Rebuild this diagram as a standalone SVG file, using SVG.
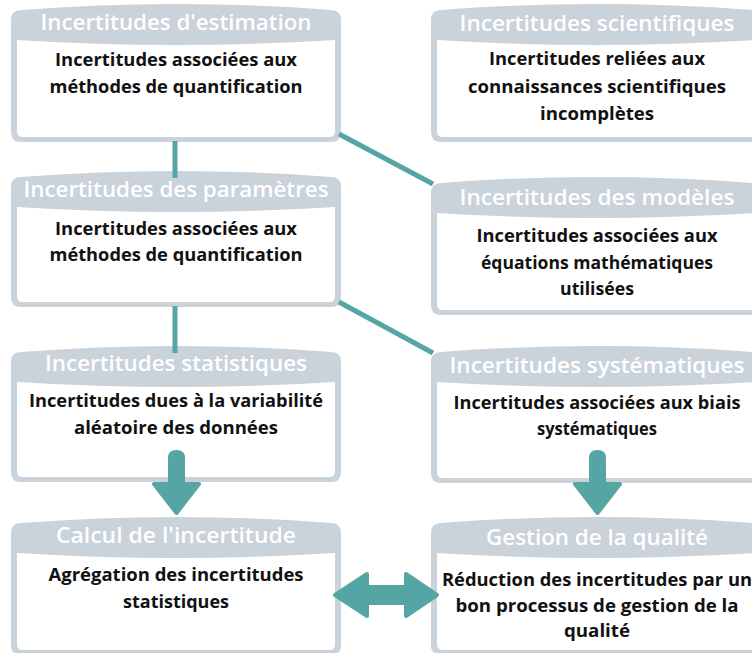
<svg xmlns="http://www.w3.org/2000/svg" width="752" height="653" viewBox="0 0 752 653">
<style>
.frame{fill:#cad2da}
.body{fill:#ffffff}
.hd{font-family:"Open Sans","Liberation Sans",sans-serif;font-weight:600;font-size:22px;fill:#ffffff;text-anchor:middle}
.tx{font-family:"Open Sans","Liberation Sans",sans-serif;font-weight:700;font-size:17.5px;fill:#111111;text-anchor:middle}
.ln{stroke:#56a5a5;stroke-width:5;fill:none}
.ar{fill:#56a5a5;stroke:#56a5a5;stroke-width:4;stroke-linejoin:round}
</style>
<rect width="752" height="653" fill="#ffffff"/>
<g id="n-estimation" transform="translate(11,10)">
<path class="frame" d="M0,10 Q0,0 10,0 Q165,-12 320,0 Q330,0 330,10 V122 Q330,132 320,132 H10 Q0,132 0,122 Z"/>
<path class="body" d="M6,30 Q165,40 324,30 V121 Q324,127 318,127 H12 Q6,127 6,121 Z"/>
<text class="hd" x="165" y="20" textLength="271" lengthAdjust="spacingAndGlyphs">Incertitudes d'estimation</text>
<text class="tx" x="165" y="56" textLength="242" lengthAdjust="spacingAndGlyphs">Incertitudes associées aux</text>
<text class="tx" x="165" y="83" textLength="253" lengthAdjust="spacingAndGlyphs">méthodes de quantification</text>
</g>
<g id="n-parametres" transform="translate(11,177)">
<path class="frame" d="M0,10 Q0,0 10,0 Q165,-12 320,0 Q330,0 330,10 V120 Q330,130 320,130 H10 Q0,130 0,120 Z"/>
<path class="body" d="M6,30 Q165,40 324,30 V119 Q324,125 318,125 H12 Q6,125 6,119 Z"/>
<text class="hd" x="165" y="20" textLength="305" lengthAdjust="spacingAndGlyphs">Incertitudes des paramètres</text>
<text class="tx" x="165" y="58" textLength="242" lengthAdjust="spacingAndGlyphs">Incertitudes associées aux</text>
<text class="tx" x="165" y="84" textLength="253" lengthAdjust="spacingAndGlyphs">méthodes de quantification</text>
</g>
<g id="n-statistiques" transform="translate(11,352)">
<path class="frame" d="M0,10 Q0,0 10,0 Q165,-12 320,0 Q330,0 330,10 V120 Q330,130 320,130 H10 Q0,130 0,120 Z"/>
<path class="body" d="M6,30 Q165,40 324,30 V119 Q324,125 318,125 H12 Q6,125 6,119 Z"/>
<text class="hd" x="165" y="19" textLength="262" lengthAdjust="spacingAndGlyphs">Incertitudes statistiques</text>
<text class="tx" x="165" y="55" textLength="294" lengthAdjust="spacingAndGlyphs">Incertitudes dues à la variabilité</text>
<text class="tx" x="165" y="82" textLength="204" lengthAdjust="spacingAndGlyphs">aléatoire des données</text>
</g>
<g id="n-calcul" transform="translate(11,523)">
<path class="frame" d="M0,10 Q0,0 10,0 Q165,-12 320,0 Q330,0 330,10 V122 Q330,132 320,132 H10 Q0,132 0,122 Z"/>
<path class="body" d="M6,30 Q165,40 324,30 V121 Q324,127 318,127 H12 Q6,127 6,121 Z"/>
<text class="hd" x="165" y="20" textLength="240" lengthAdjust="spacingAndGlyphs">Calcul de l'incertitude</text>
<text class="tx" x="165" y="58" textLength="255" lengthAdjust="spacingAndGlyphs">Agrégation des incertitudes</text>
<text class="tx" x="165" y="85" textLength="106" lengthAdjust="spacingAndGlyphs">statistiques</text>
</g>
<g id="n-scientifiques" transform="translate(431,10)">
<path class="frame" d="M0,10 Q0,0 10,0 Q166,-12 322,0 Q332,0 332,10 V122 Q332,132 322,132 H10 Q0,132 0,122 Z"/>
<path class="body" d="M6,30 Q166,40 326,30 V121 Q326,127 320,127 H12 Q6,127 6,121 Z"/>
<text class="hd" x="166" y="21" textLength="275" lengthAdjust="spacingAndGlyphs">Incertitudes scientifiques</text>
<text class="tx" x="166" y="55" textLength="216" lengthAdjust="spacingAndGlyphs">Incertitudes reliées aux</text>
<text class="tx" x="166" y="83" textLength="258" lengthAdjust="spacingAndGlyphs">connaissances scientifiques</text>
<text class="tx" x="166" y="110" textLength="114" lengthAdjust="spacingAndGlyphs">incomplètes</text>
</g>
<g id="n-modeles" transform="translate(431,183)">
<path class="frame" d="M0,10 Q0,0 10,0 Q166,-12 322,0 Q332,0 332,10 V122 Q332,132 322,132 H10 Q0,132 0,122 Z"/>
<path class="body" d="M6,30 Q166,40 326,30 V121 Q326,127 320,127 H12 Q6,127 6,121 Z"/>
<text class="hd" x="166" y="22" textLength="275" lengthAdjust="spacingAndGlyphs">Incertitudes des modèles</text>
<text class="tx" x="166" y="59" textLength="241" lengthAdjust="spacingAndGlyphs">Incertitudes associées aux</text>
<text class="tx" x="166" y="86" textLength="232" lengthAdjust="spacingAndGlyphs">équations mathématiques</text>
<text class="tx" x="166" y="112" textLength="74" lengthAdjust="spacingAndGlyphs">utilisées</text>
</g>
<g id="n-systematiques" transform="translate(431,352)">
<path class="frame" d="M0,10 Q0,0 10,0 Q166,-12 322,0 Q332,0 332,10 V121 Q332,131 322,131 H10 Q0,131 0,121 Z"/>
<path class="body" d="M6,30 Q166,40 326,30 V120 Q326,126 320,126 H12 Q6,126 6,120 Z"/>
<text class="hd" x="166" y="21" textLength="295" lengthAdjust="spacingAndGlyphs">Incertitudes systématiques</text>
<text class="tx" x="166" y="57" textLength="287" lengthAdjust="spacingAndGlyphs">Incertitudes associées aux biais</text>
<text class="tx" x="166" y="83" textLength="120" lengthAdjust="spacingAndGlyphs">systématiques</text>
</g>
<g id="n-qualite" transform="translate(431,523)">
<path class="frame" d="M0,10 Q0,0 10,0 Q166,-12 322,0 Q332,0 332,10 V122 Q332,132 322,132 H10 Q0,132 0,122 Z"/>
<path class="body" d="M6,30 Q166,40 326,30 V121 Q326,127 320,127 H12 Q6,127 6,121 Z"/>
<text class="hd" x="166" y="22" textLength="222" lengthAdjust="spacingAndGlyphs">Gestion de la qualité</text>
<text class="tx" x="166" y="63" textLength="310" lengthAdjust="spacingAndGlyphs">Réduction des incertitudes par un</text>
<text class="tx" x="166" y="89" textLength="283" lengthAdjust="spacingAndGlyphs">bon processus de gestion de la</text>
<text class="tx" x="166" y="114" textLength="66" lengthAdjust="spacingAndGlyphs">qualité</text>
</g>
<g id="connectors">
<line class="ln" x1="175" y1="141" x2="175" y2="178"/>
<line class="ln" x1="175" y1="306" x2="175" y2="353"/>
<line class="ln" x1="339" y1="134" x2="433" y2="184"/>
<line class="ln" x1="339" y1="302" x2="433" y2="353"/>
<path class="ar" d="M170,458 Q170,452 176.5,452 Q183,452 183,458 V484 H199 L176.5,513 L154,484 H170 Z"/>
<path class="ar" d="M591,458 Q591,452 597.5,452 Q604,452 604,458 V484 H620 L597.5,513 L575,484 H591 Z"/>
<path class="ar" d="M335,595 L367,574 V587 H406 V574 L437,595 L406,616 V603 H367 V616 Z"/>
</g>
</svg>
